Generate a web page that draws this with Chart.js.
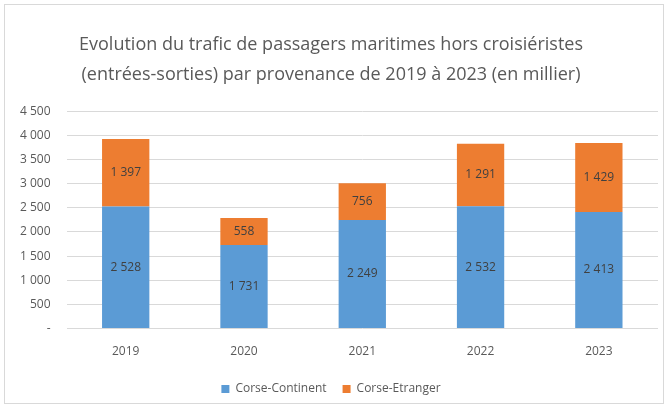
<!DOCTYPE html>
<html>
<head>
<meta charset="utf-8">
<script src="https://cdn.jsdelivr.net/npm/chart.js@4"></script>
<style>
  body { margin: 0; background: #fff; }
  #wrap { width: 668px; height: 409px; }
</style>
</head>
<body>
<div id="wrap"><canvas id="chart" width="668" height="409"></canvas></div>
<script>
// Data (thousands of passengers)
const years = ['2019', '2020', '2021', '2022', '2023'];
const corseContinent = [2528, 1731, 2249, 2532, 2413];
const corseEtranger = [1397, 558, 756, 1291, 1429];
const titleLines = [
    'Evolution du trafic de passagers maritimes hors croisiéristes',
    '(entrées-sorties) par provenance de 2019 à 2023 (en millier)'
];

const fontFamily = "'Open Sans', 'Noto Sans', sans-serif";

function fmt(v) {
    return String(v).replace(/\B(?=(\d{3})+(?!\d))/g, ' ');
}

// Draw the numbers inside each bar segment
const barLabels = {
    id: 'barLabels',
    afterDatasetsDraw(chart) {
        const ctx = chart.ctx;
        ctx.save();
        ctx.font = "12px " + fontFamily;
        ctx.fillStyle = '#404040';
        ctx.textAlign = 'center';
        ctx.textBaseline = 'middle';
        chart.data.datasets.forEach((ds, i) => {
            chart.getDatasetMeta(i).data.forEach((bar, j) => {
                const p = bar.getProps(['x', 'y', 'base'], true);
                ctx.fillText(fmt(ds.data[j]), p.x, (p.y + p.base) / 2);
            });
        });
        ctx.restore();
    }
};

// Light frame around the whole chart
const frame = {
    id: 'frame',
    beforeDraw(chart) {
        const ctx = chart.ctx;
        ctx.save();
        ctx.strokeStyle = '#d9d9d9';
        ctx.lineWidth = 1;
        ctx.strokeRect(4.5, 4.5, 659, 399);
        ctx.restore();
    }
};

new Chart(document.getElementById('chart'), {
    type: 'bar',
    data: {
        labels: years,
        datasets: [{
            label: 'Corse-Continent',
            data: corseContinent,
            backgroundColor: '#5B9BD5',
            categoryPercentage: 1,
            barPercentage: 0.4
        }, {
            label: 'Corse-Etranger',
            data: corseEtranger,
            backgroundColor: '#ED7D31',
            categoryPercentage: 1,
            barPercentage: 0.4
        }]
    },
    options: {
        responsive: false,
        animation: false,
        layout: { padding: { left: 4, right: 10, top: 30, bottom: 4 } },
        scales: {
            x: {
                stacked: true,
                grid: { display: false },
                border: { display: false },
                ticks: { color: '#595959', font: { family: fontFamily, size: 12 }, padding: 8 }
            },
            y: {
                stacked: true,
                min: 0,
                max: 4500,
                ticks: {
                    stepSize: 500,
                    color: '#595959',
                    font: { family: fontFamily, size: 12 },
                    padding: 16,
                    callback: v => v === 0 ? '-' : fmt(v)
                },
                grid: { color: '#d9d9d9', drawTicks: false },
                border: { display: false }
            }
        },
        plugins: {
            title: {
                display: true,
                text: titleLines,
                color: '#595959',
                font: { family: fontFamily, size: 18, weight: 'normal', lineHeight: 1.67 },
                padding: { top: 0, bottom: 21 }
            },
            legend: {
                position: 'bottom',
                labels: {
                    color: '#595959',
                    font: { family: fontFamily, size: 12 },
                    boxWidth: 8,
                    boxHeight: 8,
                    padding: 16
                }
            },
            tooltip: { enabled: false }
        }
    },
    plugins: [barLabels, frame]
});
</script>
</body>
</html>
